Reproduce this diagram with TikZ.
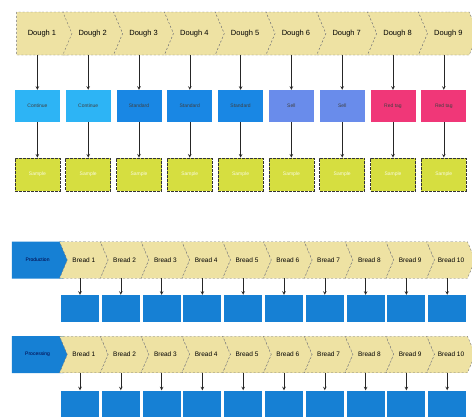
\documentclass[tikz,border=0pt]{standalone}
\usepackage{fontspec}
\setmainfont{Liberation Sans}
\usetikzlibrary{shapes.symbols,positioning}
\definecolor{chevfill}{RGB}{238,226,163}
\definecolor{lblue}{RGB}{45,180,245}
\definecolor{mblue}{RGB}{25,135,228}
\definecolor{pblue}{RGB}{105,140,235}
\definecolor{rpink}{RGB}{240,55,120}
\definecolor{lime}{RGB}{214,222,64}
\definecolor{boxblue}{RGB}{22,128,212}

\begin{document}
\begin{tikzpicture}[x=1pt,y=-1pt,
    >=stealth,
    chev/.style={shape=signal, signal to=east, signal from=west,
      signal pointer angle=134, fill=chevfill, draw=black!55,
      dash pattern=on 2pt off 2pt, line width=0.4pt,
      outer sep=0pt, inner sep=0pt},
    dough/.style={chev, minimum width=59.9pt, minimum height=43pt,
      font=\fontsize{7.5}{8}\selectfont},
    bread/.style={chev, minimum width=48.4pt, minimum height=36.5pt,
      font=\fontsize{6.5}{7}\selectfont},
    stage/.style={shape=signal, signal to=east, signal from=nowhere,
      signal pointer angle=134, fill=boxblue, outer sep=0pt,
      minimum width=59.2pt, minimum height=37pt,
      text=black!75!blue, font=\fontsize{5}{6}\selectfont},
    state/.style={rectangle, minimum width=45pt, minimum height=32pt,
      inner sep=1pt, text=black!75, font=\fontsize{5}{6}\selectfont},
    result/.style={rectangle, fill=lime, draw=black!80, thick,
      dash pattern=on 3pt off 1pt, minimum width=45pt, minimum height=33pt,
      text=white!85!lime, font=\fontsize{5}{6}\selectfont},
    bluebox/.style={rectangle, fill=boxblue, minimum width=38pt,
      minimum height=27pt},
    arr/.style={->, line width=0.6pt, black!85}
  ]
  \clip (0,0) rectangle (472,416);
  \fill[white] (0,0) rectangle (472,416);

  % dough row
  \node[dough, signal from=nowhere] (d1) at (41.95,33.5) {Dough 1};
  \foreach \i in {2,...,9}
    \node[dough] (d\i) at (41.95+50.8*\i-50.8,33.5) {Dough \i};

  \foreach \i/\lab/\col in {1/Continue/lblue, 2/Continue/lblue,
      3/Standard/mblue, 4/Standard/mblue, 5/Standard/mblue,
      6/Sell/pblue, 7/Sell/pblue, 8/Red tag/rpink, 9/Red tag/rpink} {
    \node[state, fill=\col] (m\i) at (37.4+50.8*\i-50.8,106) {\lab};
    \node[result] (r\i) at (37.4+50.8*\i-50.8,174.5) {Sample};
    \draw[arr] (m\i.north |- d\i.south) -- (m\i.north);
    \draw[arr] (m\i.south) -- (r\i.north);
  }

  % first bread line
  \node[stage] (p1) at (37.6,260) {Production};
  \foreach \i in {1,...,10} {
    \node[bread] (b\i) at (83.8+40.8*\i-40.8,260) {Bread \i};
    \node[bluebox] (q\i) at (80+40.8*\i-40.8,308.5) {};
    \draw[arr] (q\i.north |- b\i.south) -- (q\i.north);
  }

  % second bread line
  \node[stage] (p2) at (37.6,354.5) {Processing};
  \foreach \i in {1,...,10} {
    \node[bread] (c\i) at (83.8+40.8*\i-40.8,354.5) {Bread \i};
    \node[bluebox] (s\i) at (80+40.8*\i-40.8,404) {};
    \draw[arr] (s\i.north |- c\i.south) -- (s\i.north);
  }
\end{tikzpicture}
\end{document}
